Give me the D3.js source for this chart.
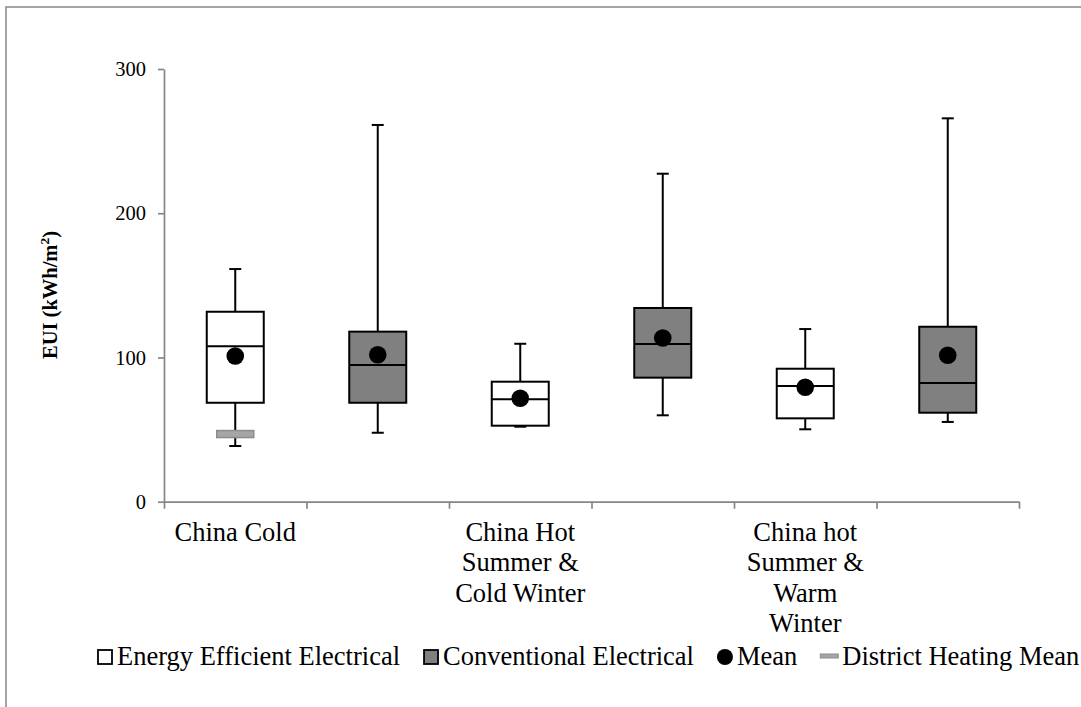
<!DOCTYPE html>
<html>
<head>
<meta charset="utf-8">
<script src="https://cdn.jsdelivr.net/npm/d3@7"></script>
<style>
  body { margin: 0; background: #fff; }
  svg { display: block; font-family: 'Liberation Serif', 'Times New Roman', serif; }
</style>
</head>
<body>
<script>
// Data
const ZONES = [
  ['China Cold'],
  ['China Hot', 'Summer &', 'Cold Winter'],
  ['China hot', 'Summer &', 'Warm', 'Winter']
]
const SERIES = ['Energy Efficient Electrical', 'Conventional Electrical']
// one entry per box: EE cold, conv cold, EE hscw, conv hscw, EE hsww, conv hsww
const BOX_MIN = [38.6, 47.8, 52, 59.9, 50.2, 55.3]
const BOX_Q1 = [68.6, 68.6, 52.7, 86, 57.8, 61.7]
const BOX_MEDIAN = [107.7, 94.8, 71, 109.3, 80.2, 82.3]
const BOX_Q3 = [131.7, 117.9, 83.2, 134.3, 92.2, 121.3]
const BOX_MAX = [161.3, 261.2, 109.5, 227.4, 119.7, 265.8]
const BOX_MEAN = [101, 101.9, 71.7, 113.5, 79.3, 101.5]
const DISTRICT_MEAN = [{ slot: 0, value: 46.9 }]
const Y_TICKS = [0, 100, 200, 300]
const LEGEND = ['Energy Efficient Electrical', 'Conventional Electrical', 'Mean', 'District Heating Mean']

const FILLS = ['#ffffff', '#808080']
const AXIS = '#868686'

const width = 1081
const height = 707
const svg = d3.select('body').append('svg')
  .attr('width', width)
  .attr('height', height)

// Chart border (only top/left visible)
svg.append('rect')
  .attr('x', 6).attr('y', 7)
  .attr('width', 1200).attr('height', 900)
  .attr('fill', 'none')
  .attr('stroke', AXIS)
  .attr('stroke-width', 1.5)

// Scales
const y = d3.scaleLinear().domain([0, 300]).range([501.7, 69])
const x = d3.scaleBand().domain(d3.range(BOX_MIN.length)).range([164, 1019])
const xEdge = d3.scaleLinear().domain([0, BOX_MIN.length]).range(x.range())
const boxW = x.bandwidth() * 0.4
const cx = i => x(i) + x.bandwidth() / 2

// Y axis
const yAxis = svg.append('g')
  .attr('transform', `translate(${x.range()[0]},0)`)
  .call(d3.axisLeft(y).tickValues(Y_TICKS).tickSize(6).tickSizeOuter(0).tickPadding(12))
yAxis.selectAll('path, line').attr('stroke', AXIS).attr('stroke-width', 1.7)
yAxis.selectAll('text')
  .attr('fill', '#000')
  .style('font-size', '20.5px')
  .style('font-family', 'Liberation Serif, serif')

// X axis (ticks on band edges, labels drawn separately)
const xAxis = svg.append('g')
  .attr('transform', `translate(0,${y(0)})`)
  .call(d3.axisBottom(xEdge).tickValues(d3.range(BOX_MIN.length + 1)).tickSize(7).tickSizeOuter(0).tickFormat(''))
xAxis.selectAll('path, line').attr('stroke', AXIS).attr('stroke-width', 1.7)

// Category labels, centred on every other band
svg.append('g').selectAll('text')
  .data(ZONES)
  .enter()
  .append('text')
  .attr('text-anchor', 'middle')
  .style('font-size', '26.5px')
  .attr('fill', '#000')
  .each(function (lines, i) {
    d3.select(this).selectAll('tspan')
      .data(lines)
      .enter()
      .append('tspan')
      .attr('x', cx(i * SERIES.length))
      .attr('y', (_, j) => 541 + j * 30.3)
      .text(d => d)
  })

// Y title
svg.append('text')
  .attr('transform', 'translate(57,295) rotate(-90)')
  .attr('text-anchor', 'middle')
  .style('font-size', '20.5px')
  .style('font-weight', 'bold')
  .html('EUI (kWh/m<tspan dy="-8" font-size="13.5px">2</tspan><tspan dy="8">)</tspan>')

// Boxes
const boxes = svg.append('g').selectAll('g')
  .data(BOX_MIN.map((_, i) => i))
  .enter()
  .append('g')

boxes.append('line')
  .attr('x1', cx).attr('x2', cx)
  .attr('y1', i => y(BOX_MAX[i])).attr('y2', i => y(BOX_Q3[i]))
boxes.append('line')
  .attr('x1', cx).attr('x2', cx)
  .attr('y1', i => y(BOX_Q1[i])).attr('y2', i => y(BOX_MIN[i]))
boxes.append('line')
  .attr('x1', i => cx(i) - 6).attr('x2', i => cx(i) + 6)
  .attr('y1', i => y(BOX_MAX[i])).attr('y2', i => y(BOX_MAX[i]))
boxes.append('line')
  .attr('x1', i => cx(i) - 6).attr('x2', i => cx(i) + 6)
  .attr('y1', i => y(BOX_MIN[i])).attr('y2', i => y(BOX_MIN[i]))
boxes.selectAll('line').attr('stroke', '#000').attr('stroke-width', 2)

boxes.append('rect')
  .attr('x', i => cx(i) - boxW / 2)
  .attr('width', boxW)
  .attr('y', i => y(BOX_Q3[i]))
  .attr('height', i => y(BOX_Q1[i]) - y(BOX_Q3[i]))
  .attr('fill', i => FILLS[i % SERIES.length])
  .attr('stroke', '#000')
  .attr('stroke-width', 2)

boxes.append('line')
  .attr('x1', i => cx(i) - boxW / 2).attr('x2', i => cx(i) + boxW / 2)
  .attr('y1', i => y(BOX_MEDIAN[i])).attr('y2', i => y(BOX_MEDIAN[i]))
  .attr('stroke', '#000')
  .attr('stroke-width', 2)

boxes.append('circle')
  .attr('cx', cx)
  .attr('cy', i => y(BOX_MEAN[i]))
  .attr('r', 8.8)
  .attr('fill', '#000')

// District heating mean marker
svg.append('g').selectAll('rect')
  .data(DISTRICT_MEAN)
  .enter()
  .append('rect')
  .attr('x', d => cx(d.slot) - 18.5)
  .attr('width', 37)
  .attr('y', d => y(d.value) - 3.5)
  .attr('height', 7)
  .attr('fill', '#a6a6a6')
  .attr('stroke', '#8c8c8c')
  .attr('stroke-width', 1.5)

// Legend
const legend = svg.append('g').attr('id', 'legend')
let lx = 97
LEGEND.forEach((name, i) => {
  const g = legend.append('g').attr('transform', `translate(${lx},0)`)
  if (i < 2) {
    g.append('rect')
      .attr('x', 1).attr('y', 650)
      .attr('width', 14).attr('height', 14)
      .attr('fill', FILLS[i])
      .attr('stroke', '#000')
      .attr('stroke-width', 1.8)
  } else if (i === 2) {
    g.append('circle')
      .attr('cx', 8).attr('cy', 657).attr('r', 8)
      .attr('fill', '#000')
  } else {
    g.append('rect')
      .attr('x', 0).attr('y', 654)
      .attr('width', 18).attr('height', 4)
      .attr('fill', '#a6a6a6')
      .attr('stroke', '#8c8c8c')
      .attr('stroke-width', 1)
  }
  const t = g.append('text')
    .attr('x', 20 + (i === 3 ? 2 : 0))
    .attr('y', 665)
    .style('font-size', '26.5px')
    .attr('fill', '#000')
    .text(name)
  lx += 20 + t.node().getComputedTextLength() + 23
})
</script>
</body>
</html>
